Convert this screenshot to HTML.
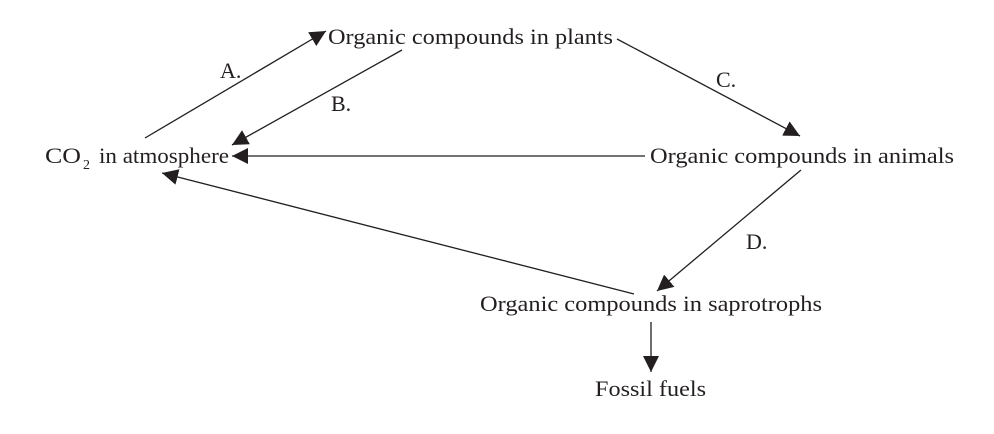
<!DOCTYPE html>
<html><head><meta charset="utf-8"><style>
html,body{margin:0;padding:0;background:#fff;}
svg{display:block;}
svg text{font-family:"Liberation Serif","Times New Roman",Times,serif;fill:#231f20;}
</style></head><body>
<svg width="994" height="434" viewBox="0 0 994 434" xmlns="http://www.w3.org/2000/svg" font-family="Liberation Serif, Times New Roman, serif">
<defs>
<marker id="ah" viewBox="0 0 10 10" refX="10" refY="5" markerWidth="16" markerHeight="16" markerUnits="userSpaceOnUse" orient="auto">
<path d="M0,0 L10,5 L0,10 z" fill="#231f20"/>
</marker>
</defs>
<g stroke="#231f20" stroke-width="1.3" fill="none">
<line x1="145" y1="138" x2="326" y2="31" marker-end="url(#ah)"/>
<line x1="402" y1="50" x2="232" y2="145" marker-end="url(#ah)"/>
<line x1="617" y1="39" x2="800" y2="136" marker-end="url(#ah)"/>
<line x1="645" y1="156" x2="232" y2="156" marker-end="url(#ah)"/>
<line x1="801" y1="170" x2="657" y2="291" marker-end="url(#ah)"/>
<line x1="634" y1="294" x2="162" y2="173" marker-end="url(#ah)"/>
<line x1="651" y1="322" x2="651" y2="372" marker-end="url(#ah)"/>
</g>
<text x="328" y="44" font-size="22" textLength="285" lengthAdjust="spacingAndGlyphs">Organic compounds in plants</text>
<text x="45" y="163" font-size="22" textLength="36" lengthAdjust="spacingAndGlyphs">CO</text>
<text x="83" y="169" font-size="14">2</text>
<text x="99" y="163" font-size="22" textLength="130" lengthAdjust="spacingAndGlyphs">in atmosphere</text>
<text x="650" y="163" font-size="22" textLength="304" lengthAdjust="spacingAndGlyphs">Organic compounds in animals</text>
<text x="480" y="311" font-size="22" textLength="342" lengthAdjust="spacingAndGlyphs">Organic compounds in saprotrophs</text>
<text x="595" y="396" font-size="22" textLength="111" lengthAdjust="spacingAndGlyphs">Fossil fuels</text>
<text x="220" y="78" font-size="22">A.</text>
<text x="331" y="111" font-size="22">B.</text>
<text x="716" y="87" font-size="22">C.</text>
<text x="746" y="249" font-size="22">D.</text>
</svg>
</body></html>
